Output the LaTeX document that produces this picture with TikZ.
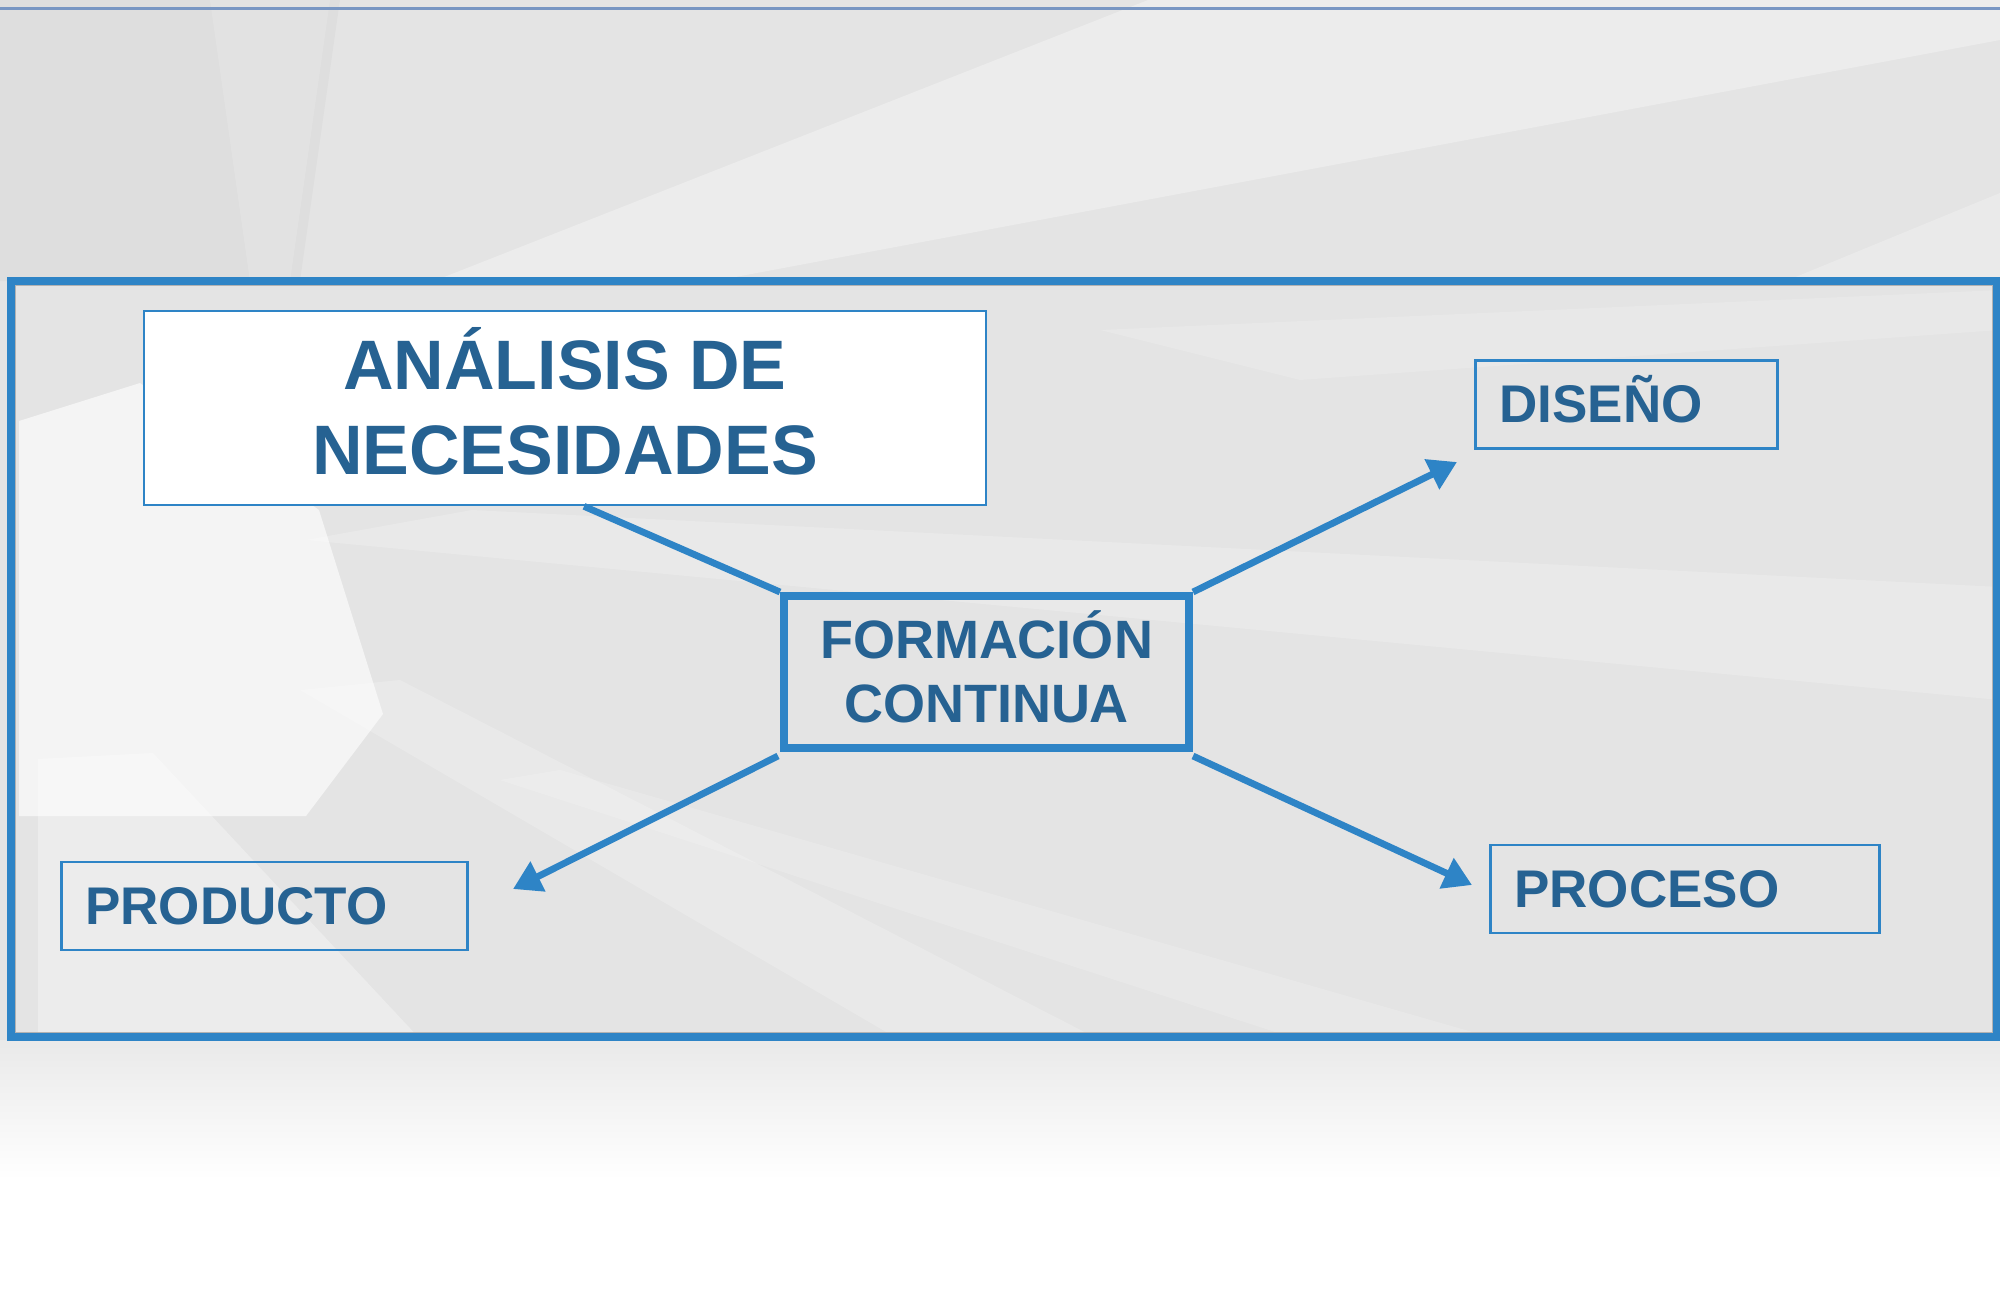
\documentclass[tikz,border=0pt]{standalone}
\usepackage{fontspec}
\setmainfont{Liberation Sans}
\usetikzlibrary{arrows.meta,calc}
\definecolor{bordc}{RGB}{46,132,198}
\definecolor{txtc}{RGB}{38,98,146}
\definecolor{bgc}{RGB}{228,228,228}
\definecolor{topline}{RGB}{120,150,195}
\begin{document}
\begin{tikzpicture}[x=0.5pt,y=-0.5pt,
  bigbox/.style={draw=bordc, line width=1.3pt, fill=white, text=txtc,
    font=\bfseries\fontsize{35}{42.5}\selectfont, align=center,
    minimum width=421pt, minimum height=97pt, inner sep=0pt},
  midbox/.style={draw=bordc, line width=4pt, text=txtc,
    font=\bfseries\fontsize{27}{32}\selectfont, align=center,
    minimum width=202.5pt, minimum height=76pt, inner sep=0pt},
  smallbox/.style={draw=bordc, line width=1.3pt, text=txtc,
    font=\bfseries\fontsize{26.5}{30}\selectfont, align=left,
    inner xsep=12pt, inner ysep=0pt, minimum height=44pt, anchor=west},
  conn/.style={draw=bordc, line width=3.4pt},
  arr/.style={conn, -{Triangle[length=14pt,width=16pt]}},
  shard/.style={fill=white, opacity=#1}
]
\useasboundingbox (0,0) rectangle (2000,1303);
% background
\fill[white] (0,0) rectangle (2000,1303);
\fill[bgc] (0,0) rectangle (2000,1040);
\shade[top color=bgc!80!white, bottom color=white] (0,1040) rectangle (2000,1180);
% top shards
\fill[shard=.3] (1148,0) -- (2000,0) -- (2000,40) -- (714,281) -- (434,281) -- cycle;
\fill[shard=.25] (2000,193) -- (2000,281) -- (1786,281) -- cycle;
\fill[black,opacity=.025] (0,0) -- (340,0) -- (300,281) -- (0,281) -- cycle;
\fill[shard=.15] (210,0) -- (330,0) -- (290,281) -- (250,281) -- cycle;
% shards inside the frame
\fill[shard=.6] (19,421) -- (140,383) -- (319,510) -- (383,714) -- (306,816) -- (19,816) -- cycle;
\fill[shard=.3] (38,759) -- (153,753) -- (421,1040) -- (38,1040) -- cycle;
\fill[shard=.22] (306,540) -- (472,510) -- (2000,587) -- (2000,700) -- cycle;
\fill[shard=.22] (300,690) -- (400,680) -- (1100,1040) -- (900,1040) -- cycle;
\fill[shard=.18] (500,780) -- (560,770) -- (1500,1040) -- (1300,1040) -- cycle;
\fill[shard=.15] (1100,330) -- (2000,290) -- (2000,330) -- (1300,380) -- cycle;
% top line
\draw[line width=1.5pt, topline] (0,8.5) -- (2000,8.5);
% outer frame
\draw[line width=3.8pt, bordc] (11,281) rectangle (1996.5,1037);
\draw[line width=0.5pt, gray!60] (15.5,285.5) rectangle (1992,1032.5);
% nodes
\node[bigbox] (anal) at (565,408) {AN\smash{Á}LISIS DE\\NECESIDADES};
\node[midbox] (form) at (986.5,672) {FORMACI\smash{Ó}N\\CONTINUA};
\node[smallbox, text width=127pt] (dis) at (1474,404.5) {DISE\smash{Ñ}O};
\node[smallbox, text width=179pt] (prod) at (60,906) {PRODUCTO};
\node[smallbox, text width=170.5pt] (proc) at (1489,889) {PROCESO};
% arrow ends
\coordinate (dtip) at (1457,462);
\coordinate (ptip) at (513,889);
\coordinate (rtip) at (1472,885);
% connectors
\draw[conn] ($(anal.south)+(19,0)$) -- (form.north west);
\draw[arr] (form.north east) -- (dtip);
\draw[arr] ($(form.south west)+(-2,4)$) -- (ptip);
\draw[arr] ($(form.south east)+(0,4)$) -- (rtip);
\end{tikzpicture}
\end{document}
